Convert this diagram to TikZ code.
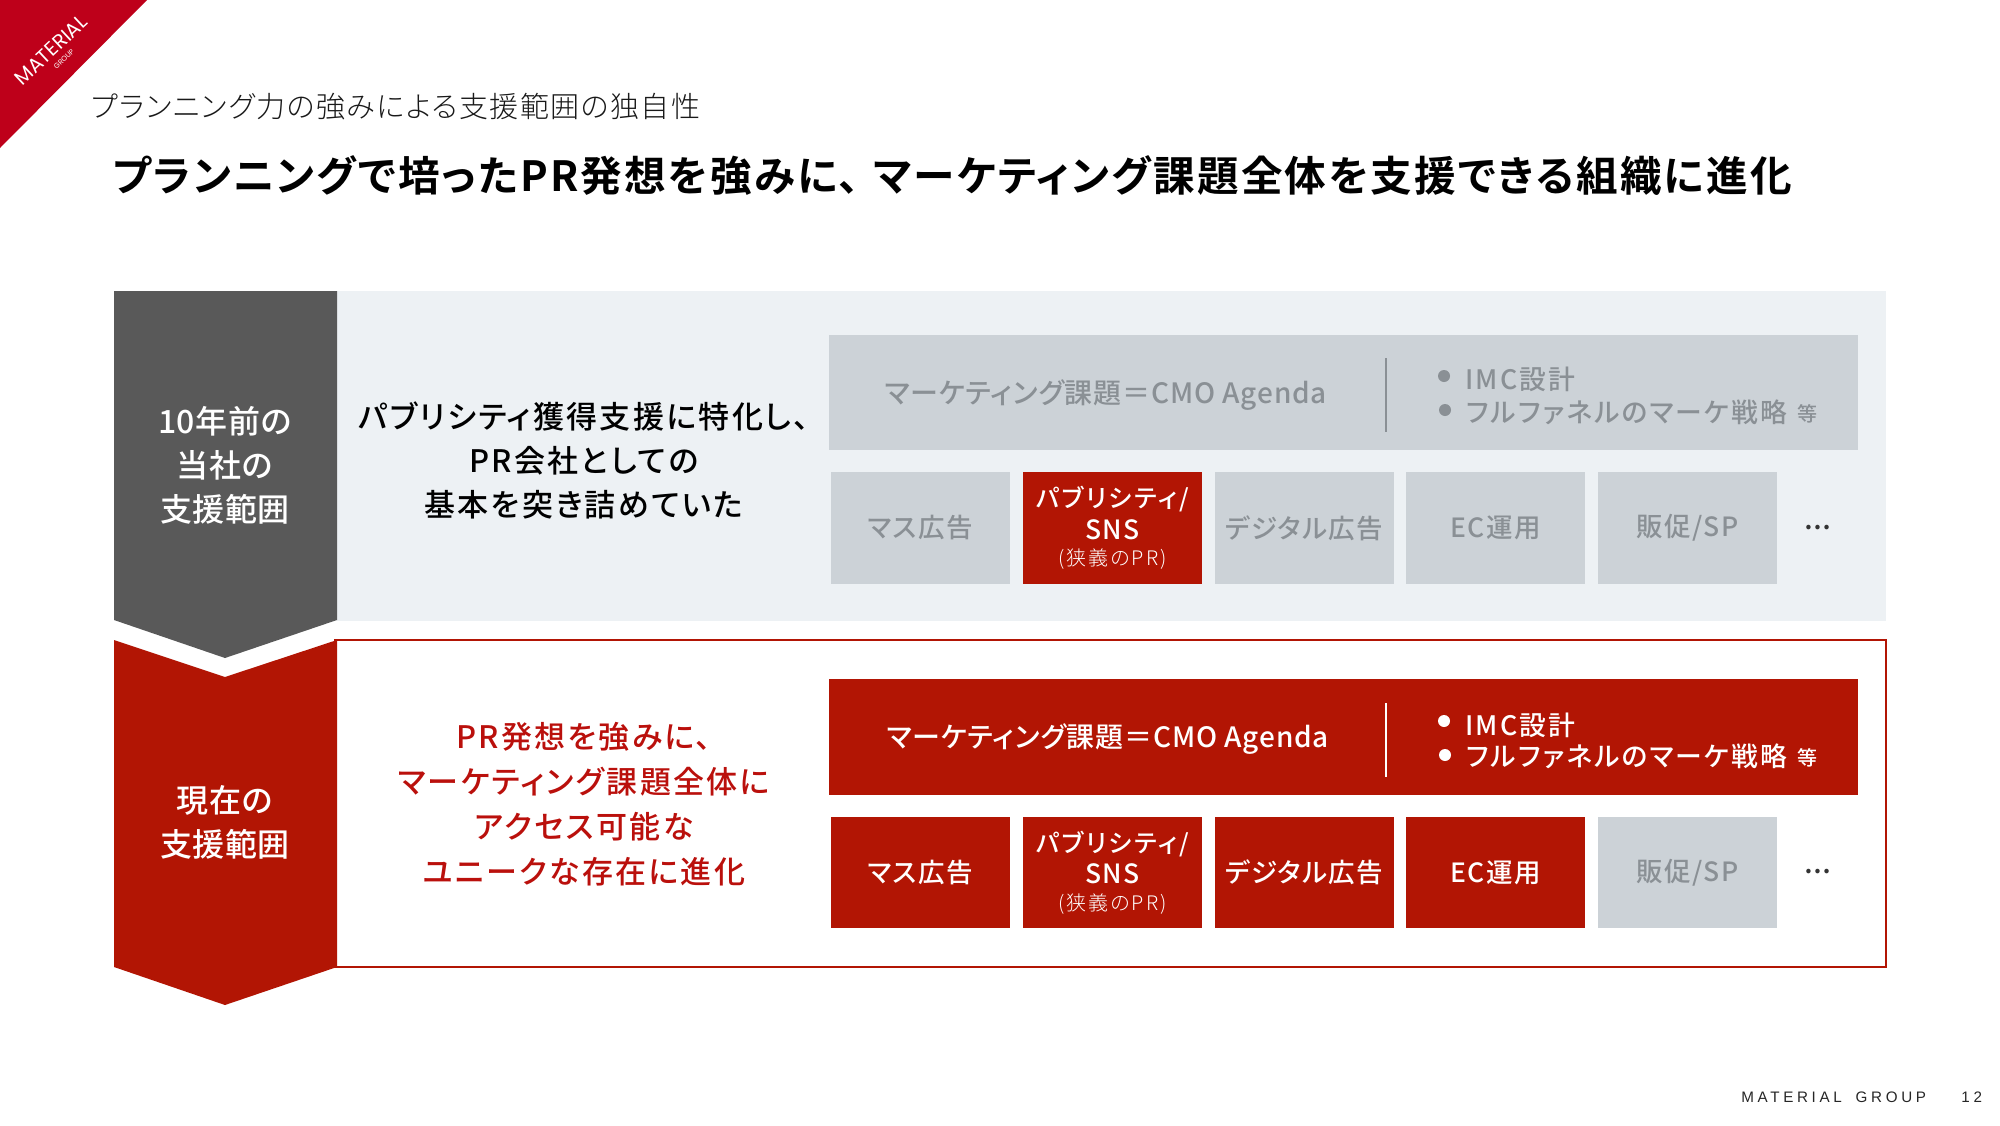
\documentclass[tikz,border=0pt]{standalone}
\usepackage{fontspec}
\usepackage{xcolor}
\setmainfont[BoldFont={Noto Sans CJK JP Bold},RawFeature={+palt}]{Noto Sans CJK JP}
\newfontfamily\titlefont[LetterSpace=5.3,RawFeature={+palt}]{Noto Sans CJK JP Bold}
\newfontfamily\subfont[LetterSpace=5,RawFeature={+palt}]{Noto Sans CJK JP Light}
\newfontfamily\tilefont[LetterSpace=5,RawFeature={+palt}]{Noto Sans CJK JP Medium}
\newfontfamily\pitchfont[LetterSpace=7.5,RawFeature={+palt}]{Noto Sans CJK JP Medium}
\newfontfamily\agendafont[LetterSpace=3,RawFeature={+palt}]{Noto Sans CJK JP Medium}
\newfontfamily\listfont[LetterSpace=8,RawFeature={+palt}]{Noto Sans CJK JP Medium}
\newfontfamily\sidefont[LetterSpace=2,RawFeature={+palt}]{Noto Sans CJK JP Medium}
\newfontfamily\pubfont[LetterSpace=10,RawFeature={+palt}]{Noto Sans CJK JP Medium}
\newfontfamily\notefont[LetterSpace=10,RawFeature={+palt}]{Noto Sans CJK JP Light}
\newfontfamily\logofont{Poppins}
\newfontfamily\footfont[LetterSpace=24]{Liberation Sans}
\newcommand{\fsize}[1]{\fontsize{#1}{#1}\selectfont}
\definecolor{slate}{HTML}{595959}
\definecolor{panel}{HTML}{EDF1F4}
\definecolor{tilegray}{HTML}{CCD2D7}
\definecolor{mutedtext}{HTML}{8A9095}
\definecolor{matred}{HTML}{B21504}
\definecolor{cornerred}{HTML}{BE001A}
\definecolor{headred}{HTML}{BA100C}
\tikzset{
  tile/.style={minimum width=89.5pt, minimum height=56pt, inner sep=0pt, align=center, font=\fsize{13.25}\tilefont},
  offtile/.style={tile, fill=tilegray, text=mutedtext},
  ontile/.style={tile, fill=matred, text=white},
  band/.style={minimum width=514.5pt, minimum height=57.5pt, inner sep=0pt},
  agenda/.style={inner sep=0pt, font=\fsize{14}\agendafont},
  listline/.style={inner sep=0pt, anchor=west, font=\fsize{13.4}\listfont},
  dotmark/.style={circle, minimum size=6pt, inner sep=0pt},
  sidehead/.style={inner sep=0pt, align=center, text=white, font=\fsize{16}\sidefont},
  pitch/.style={inner sep=0pt, align=center, font=\fsize{15.5}\pitchfont}
}
\begin{document}
\begin{tikzpicture}[x=0.5pt, y=-0.5pt]
            \useasboundingbox (0,0) rectangle (2000,1125);

            %Corner
            \fill[cornerred] (0,0) -- (147,0) -- (0,148) -- cycle;
            \node[rotate=43, inner sep=0pt, text=white, font=\fsize{10}\logofont] at (51,50) (logo) {MATERIAL};
            \node[rotate=43, inner sep=0pt, text=white, font=\fsize{3.6}\logofont] at (64,59) (logosub) {GROUP};

            %Heading
            \node[inner sep=0pt, anchor=west, text=black!90, font=\fsize{14.5}\subfont] at (91,107) (sub) {プランニング力の強みによる支援範囲の独自性};
            \node[inner sep=0pt, anchor=west, font=\fsize{20.8}\titlefont] at (112,176) (title) {プランニングで培ったPR発想を強みに、\hspace{0.35em}マーケティング課題全体を支援できる組織に進化};

            %Panels
            \fill[panel] (337,291) rectangle (1886,621);
            \fill[slate] (114,291) -- (337,291) -- (337,620) -- (225,658) -- (114,620) -- cycle;
            \draw[matred, line width=1pt] (335,640) rectangle (1886,967);
            \fill[matred] (114,640) -- (225,677) -- (337,640) -- (337,967) -- (225,1005) -- (114,967) -- cycle;

            %Side labels
            \node[sidehead] at (225,465) (past) {10年前の\\[6pt]当社の\\[6pt]支援範囲};
            \node[sidehead] at (225,822) (now) {現在の\\[6pt]支援範囲};
            \node[pitch] at (584,460) (pastpitch) {パブリシティ獲得支援に特化し、\\[6.5pt]PR会社としての\\[6.5pt]基本を突き詰めていた};
            \node[pitch, text=headred] at (584,804) (nowpitch) {PR発想を強みに、\\[7pt]マーケティング課題全体に\\[7pt]アクセス可能な\\[7pt]ユニークな存在に進化};

            %Upper row
            \node[band, fill=tilegray] at (1343.5,392.5) (band1) {};
            \node[agenda, text=mutedtext] at (1106,395.5) (agenda1) {マーケティング課題＝CMO Agenda};
            \coordinate (div1a) at (1386,358);
            \coordinate (div1b) at (1386,432);
            \draw[mutedtext, line width=1pt] (div1a) -- (div1b);
            \node[dotmark, fill=mutedtext] at (1444,376) (dot1a) {};
            \node[dotmark, fill=mutedtext] at (1445,410) (dot1b) {};
            \node[listline, text=mutedtext] at (1465,379) (imc1) {IMC設計};
            \node[listline, text=mutedtext] at (1466,412) (fun1) {フルファネルのマーケ戦略};
            \node[inner sep=0pt, text=mutedtext, font=\fsize{10}\tilefont] at (1807,414) (etc1) {等};

            \node[offtile] at (920.5,528) (mass1) {マス広告};
            \node[ontile] at (1112.5,528) (pub1) {{\fsize{12.4}\pubfont パブリシティ/}\\[2.5pt]SNS\\[0pt]{\fsize{10}\notefont (狭義のPR)}};
            \node[offtile] at (1304,528) (digi1) {デジタル広告};
            \node[offtile] at (1495.5,528) (ec1) {EC運用};
            \node[offtile] at (1687.5,528) (sp1) {販促/SP};
            \node[inner sep=0pt, text=black!80, font=\fsize{12}\bfseries] at (1818,528) (more1) {…};

            %Lower row
            \node[band, fill=matred, minimum height=58pt] at (1343.5,737) (band2) {};
            \node[agenda, text=white] at (1108,739.5) (agenda2) {マーケティング課題＝CMO Agenda};
            \coordinate (div2a) at (1386,703);
            \coordinate (div2b) at (1386,777);
            \draw[white, line width=1pt] (div2a) -- (div2b);
            \node[dotmark, fill=white] at (1444,721) (dot2a) {};
            \node[dotmark, fill=white] at (1445,755) (dot2b) {};
            \node[listline, text=white] at (1465,725) (imc2) {IMC設計};
            \node[listline, text=white] at (1466,756) (fun2) {フルファネルのマーケ戦略};
            \node[inner sep=0pt, text=white, font=\fsize{10}\tilefont] at (1807,758) (etc2) {等};

            \node[ontile, minimum height=55.5pt] at (920.5,872.5) (mass2) {マス広告};
            \node[ontile, minimum height=55.5pt] at (1112.5,872.5) (pub2) {{\fsize{12.4}\pubfont パブリシティ/}\\[2.5pt]SNS\\[0pt]{\fsize{10}\notefont (狭義のPR)}};
            \node[ontile, minimum height=55.5pt] at (1304,872.5) (digi2) {デジタル広告};
            \node[ontile, minimum height=55.5pt] at (1495.5,872.5) (ec2) {EC運用};
            \node[offtile, minimum height=55.5pt] at (1687.5,872.5) (sp2) {販促/SP};
            \node[inner sep=0pt, text=black!80, font=\fsize{12}\bfseries] at (1818,872) (more2) {…};

            %Footer
            \node[inner sep=0pt, anchor=west, text=black!85, font=\fsize{7.6}\footfont] at (1741,1097) (foot) {MATERIAL\hspace{3pt} GROUP};
            \node[inner sep=0pt, anchor=west, text=black!85, font=\fsize{7.6}\footfont] at (1961,1097) (page) {12};
        \end{tikzpicture}
\end{document}
